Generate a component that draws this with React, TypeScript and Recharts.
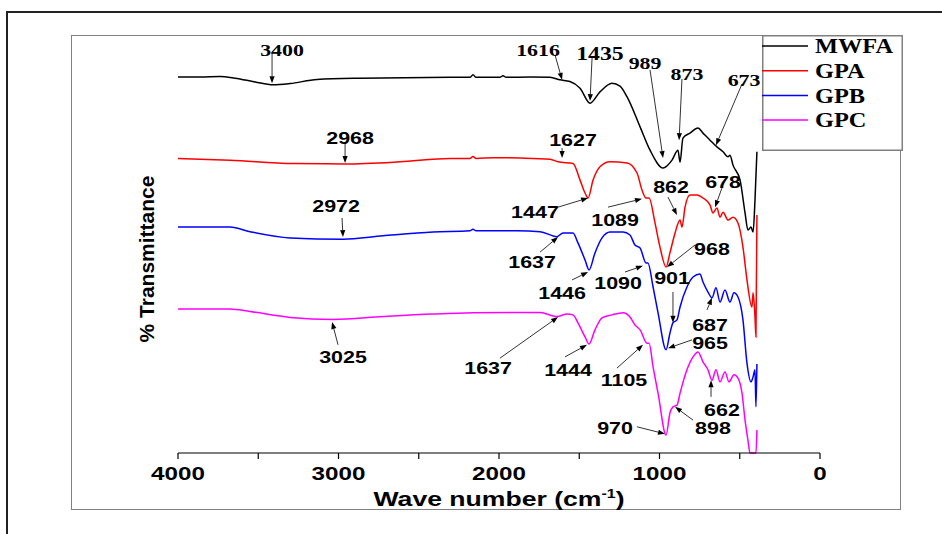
import React from 'react';
import { LineChart, Line, XAxis, YAxis, ReferenceLine, ReferenceDot, Legend } from 'recharts';

// FTIR spectra, wave number (cm-1) vs % transmittance (curves offset)
const MWFA: [number, number][] = [
  [4000, 90.4], [3863, 90.4], [3738, 90.5], [3645, 90.1], [3520, 89.2], [3408, 88.5], [3302, 88.8],
  [3134, 89.8], [2866, 90.1], [2305, 90.3], [2181, 90.3], [2162, 90.9], [2143, 90.3], [1994, 90.3],
  [1975, 90.7], [1956, 90.3], [1807, 90.4], [1682, 90.3], [1620, 89.7], [1558, 89.3], [1495, 87.7],
  [1433, 84.1], [1371, 86.8], [1296, 88.9], [1246, 88.2], [1202, 85.6], [1121, 78.4], [1059, 72.8],
  [978, 68.5], [922, 70.4], [885, 72.8], [872, 69.9], [854, 75.7], [810, 76.9], [760, 78.1],
  [729, 76.9], [685, 75.2], [642, 73.6], [604, 72.4], [573, 71.2], [561, 71.6], [542, 69.2],
  [498, 65.6], [467, 57.7], [449, 53.6], [430, 54.3], [417, 53.1], [405, 60.8], [393, 72.4],
];

const GPA: [number, number][] = [
  [4000, 70.8], [3676, 70.4], [3283, 69.6], [2959, 69.5], [2617, 70.0], [2305, 70.8], [2181, 70.8],
  [2162, 71.3], [2143, 70.8], [2037, 71.0], [1869, 70.9], [1682, 70.6], [1632, 70.0], [1539, 69.6],
  [1495, 65.6], [1464, 62.5], [1445, 61.3], [1414, 65.6], [1371, 68.8], [1308, 70.0], [1202, 69.7],
  [1140, 67.3], [1109, 63.2], [1084, 61.3], [1065, 61.3], [1028, 55.3], [997, 49.5], [959, 44.7],
  [935, 48.1], [903, 52.9], [872, 56.0], [860, 54.3], [841, 59.1], [810, 62.0], [766, 62.0],
  [729, 61.3], [685, 59.6], [667, 57.7], [642, 58.9], [623, 56.7], [604, 57.9], [573, 56.0],
  [542, 56.7], [511, 55.3], [480, 49.5], [455, 41.6], [424, 35.1], [417, 38.5], [405, 32.7],
  [399, 27.9], [393, 57.2],
];

const GPB: [number, number][] = [
  [4000, 54.3], [3676, 54.3], [3551, 53.2], [3302, 51.7], [2972, 51.4], [2723, 52.2], [2411, 53.1],
  [2181, 53.4], [2162, 53.8], [2143, 53.4], [1888, 53.4], [1744, 53.2], [1639, 52.0], [1601, 52.9],
  [1539, 52.9], [1508, 50.5], [1464, 46.4], [1439, 44.0], [1402, 48.1], [1358, 51.7], [1308, 53.1],
  [1227, 53.1], [1184, 52.4], [1153, 50.0], [1121, 49.3], [1084, 45.7], [1072, 45.7], [1040, 39.9],
  [1009, 33.7], [959, 24.8], [935, 28.8], [916, 31.3], [891, 32.0], [872, 35.1], [829, 39.9],
  [791, 42.3], [748, 43.0], [729, 41.1], [698, 38.7], [673, 37.3], [648, 39.7], [623, 36.3],
  [592, 39.2], [561, 36.3], [536, 38.5], [511, 37.5], [480, 32.0], [455, 21.6], [430, 17.1],
  [417, 18.3], [405, 20.0], [399, 11.1], [393, 21.4],
];

const GPC: [number, number][] = [
  [4000, 34.6], [3676, 34.6], [3551, 34.0], [3302, 32.6], [3034, 32.1], [2723, 32.8], [2411, 33.4],
  [2162, 33.7], [1744, 33.8], [1639, 32.8], [1576, 33.4], [1539, 33.2], [1508, 31.3], [1464, 27.9],
  [1439, 26.2], [1402, 29.6], [1358, 32.5], [1296, 33.2], [1227, 33.7], [1184, 32.7], [1153, 30.8],
  [1121, 29.6], [1078, 26.4], [1065, 26.4], [1040, 20.7], [1009, 14.4], [959, 4.3], [935, 9.6],
  [916, 11.1], [891, 11.5], [872, 14.4], [829, 20.0], [791, 23.1], [760, 24.3], [729, 21.9],
  [698, 20.0], [673, 17.5], [648, 20.0], [623, 17.1], [592, 19.5], [567, 17.1], [536, 18.8],
  [511, 18.0], [486, 14.4], [467, 7.9], [449, 3.1], [436, 0], [405, 0], [399, 0], [393, 5.5],
];

const seriesNames = ['MWFA', 'GPA', 'GPB', 'GPC'];
const seriesColors = ['#000000', '#ff0000', '#0000ff', '#ff00ff'];
const xTicks = [0, 500, 1000, 1500, 2000, 2500, 3000, 3500, 4000];

// peak labels: text position, arrow start, arrow tip (wave number, transmittance)
type Peak = { text: string; serif?: boolean; big?: boolean; at: number[]; from: number[]; to: number[] };
const peaks: Peak[] = [
  { text: '3400', serif: true, at: [3352, 96.9], from: [3414, 96.2], to: [3414, 88.9] },
  { text: '1616', serif: true, at: [1757, 96.9], from: [1651, 95.7], to: [1607, 89.7] },
  { text: '1435', serif: true, big: true, at: [1371, 96.2], from: [1420, 95.0], to: [1433, 84.6] },
  { text: '989', serif: true, at: [1090, 93.8], from: [1059, 92.1], to: [978, 70.9] },
  { text: '873', serif: true, at: [829, 91.3], from: [860, 89.9], to: [878, 75.2] },
  { text: '673', serif: true, at: [473, 89.7], from: [486, 88.7], to: [648, 74.0] },
  { text: '2968', at: [2928, 75.7], from: [2959, 74.5], to: [2959, 69.7] },
  { text: '1627', at: [1539, 75.2], from: [1607, 73.3], to: [1607, 70.9] },
  { text: '1447', at: [1776, 57.9], from: [1632, 59.1], to: [1445, 61.3] },
  { text: '1089', at: [1277, 56.0], from: [1321, 59.1], to: [1109, 61.1] },
  { text: '862', at: [928, 63.9], from: [947, 61.5], to: [891, 57.2] },
  { text: '678', at: [604, 65.1], from: [611, 63.7], to: [654, 59.1] },
  { text: '968', at: [673, 49.0], from: [779, 50.0], to: [953, 44.7] },
  { text: '2972', at: [3015, 59.4], from: [2978, 56.5], to: [2972, 51.9] },
  { text: '1637', at: [1794, 45.9], from: [1744, 48.3], to: [1632, 51.9] },
  { text: '1446', at: [1607, 38.5], from: [1545, 41.6], to: [1445, 43.5] },
  { text: '1090', at: [1258, 40.9], from: [1215, 43.5], to: [1103, 45.0] },
  { text: '901', at: [922, 42.1], from: [916, 38.7], to: [916, 31.3] },
  { text: '687', at: [685, 30.8], from: [704, 34.4], to: [673, 37.3] },
  { text: '965', at: [685, 26.4], from: [797, 27.2], to: [947, 25.2] },
  { text: '3025', at: [2972, 23.1], from: [3003, 26.0], to: [3040, 31.5] },
  { text: '1637', at: [2068, 20.4], from: [1994, 22.8], to: [1632, 32.7] },
  { text: '1444', at: [1570, 20.0], from: [1589, 23.1], to: [1452, 26.0] },
  { text: '1105', at: [1221, 17.5], from: [1265, 20.4], to: [1103, 26.0] },
  { text: '970', at: [1277, 6.0], from: [1140, 6.3], to: [966, 4.6] },
  { text: '898', at: [667, 6.0], from: [791, 7.9], to: [903, 11.1] },
  { text: '662', at: [611, 10.3], from: [679, 13.5], to: [679, 17.5] },
];

const SANS = '"Liberation Sans", Arial, sans-serif';
const SERIF = '"Liberation Serif", "Times New Roman", serif';

const toRows = (pts: [number, number][]) => pts.map(([w, t]) => ({ w, t }));
const allSeries = [MWFA, GPA, GPB, GPC].map(toRows);

const Arrow = (p: any) => {
  const { x1, y1, x2, y2 } = p;
  const dx = x2 - x1;
  const dy = y2 - y1;
  const len = Math.hypot(dx, dy) || 1;
  const ux = dx / len;
  const uy = dy / len;
  const head = 7;
  const hw = 2.6;
  const bx = x2 - ux * head;
  const by = y2 - uy * head;
  return (
    <g>
      <line x1={x1} y1={y1} x2={bx} y2={by} stroke="#333" strokeWidth={1} />
      <polygon
        points={`${x2},${y2} ${bx - uy * hw},${by + ux * hw} ${bx + uy * hw},${by - ux * hw}`}
        fill="#000"
      />
    </g>
  );
};

const peakText = (pk: Peak) => (p: any) => {
  const size = pk.serif ? (pk.big ? 19 : 17.5) : 16.5;
  return (
    <text
      transform={`translate(${p.cx} ${p.cy}) scale(${pk.serif ? 1.25 : 1.3} 1)`}
      textAnchor="middle"
      dy="0.36em"
      fontFamily={pk.serif ? SERIF : SANS}
      fontWeight="bold"
      fontSize={size}
      fill="#000"
    >
      {pk.text}
    </text>
  );
};

const TickLabel = (props: any) => {
  const { x, y, payload } = props;
  if (payload.value % 1000 !== 0) return <g />;
  return (
    <text
      transform={`translate(${x} ${y}) scale(1.31 1)`}
      textAnchor="middle"
      dy={21}
      fontFamily={SANS}
      fontWeight="bold"
      fontSize={18.5}
      fill="#000"
    >
      {payload.value}
    </text>
  );
};

const AxisTitle = (props: any) => {
  const vb = props.viewBox;
  const cx = vb.x + vb.width / 2;
  return (
    <text
      transform={`translate(${cx} ${vb.y + 53}) scale(1.33 1)`}
      textAnchor="middle"
      fontFamily={SANS}
      fontWeight="bold"
      fontSize={20}
      fill="#000"
    >
      Wave number (cm
      <tspan fontSize={12} dy={-8}>-1</tspan>
      <tspan dy={8}>)</tspan>
    </text>
  );
};

const LegendBox = (props: any) => {
  const items = [...(props.payload || [])].sort(
    (a: any, b: any) => seriesNames.indexOf(a.value) - seriesNames.indexOf(b.value)
  );
  return (
    <svg width={141} height={116} style={{ display: 'block' }}>
      <rect x={0.75} y={0.75} width={139.5} height={114.5} fill="#fff" stroke="#7f7f7f" strokeWidth={1.5} />
      {items.map((it: any, i: number) => (
        <g key={it.value}>
          <line x1={0} x2={46} y1={11 + i * 24.7} y2={11 + i * 24.7} stroke={it.color} strokeWidth={1.5} />
          <text
            transform={`translate(53 ${11 + i * 24.7}) scale(1.16 1)`}
            dy="0.34em"
            fontFamily={SERIF}
            fontWeight="bold"
            fontSize={21}
            fill="#000"
          >
            {it.value}
          </text>
        </g>
      ))}
    </svg>
  );
};

export default function App() {
  return (
    <div style={{ position: 'absolute', left: 0, top: 0, width: 942, height: 534, background: '#fff', overflow: 'hidden' }}>
      {/* outer frame */}
      <div style={{ position: 'absolute', left: 6, top: 11, width: 960, height: 600, borderTop: '2px solid #222', borderLeft: '2px solid #222' }} />
      {/* inner frame */}
      <div style={{ position: 'absolute', left: 71, top: 35, width: 828, height: 473, border: '1.5px solid #808080' }} />
      <svg width={942} height={534} style={{ position: 'absolute', left: 0, top: 0 }}>
        <text
          transform="translate(154 259) rotate(-90)"
          textAnchor="middle"
          fontFamily={SANS}
          fontWeight="bold"
          fontSize={21}
          fill="#000"
        >
          % Transmittance
        </text>
      </svg>
      <div style={{ position: 'absolute', left: 0, top: 0 }}>
        <LineChart width={942} height={534} margin={{ top: 37, right: 122, bottom: 31, left: 178 }}>
          <XAxis
            dataKey="w"
            type="number"
            domain={[0, 4000]}
            reversed
            ticks={xTicks}
            tick={TickLabel}
            tickSize={6}
            tickMargin={0}
            height={50}
            interval={0}
            stroke="#000"
            axisLine={{ stroke: '#000', strokeWidth: 1.2 }}
            tickLine={{ stroke: '#000', strokeWidth: 1.2 }}
            label={{ content: AxisTitle }}
          />
          <YAxis type="number" domain={[0, 100]} hide />
          {allSeries.map((rows, i) => (
            <Line
              key={seriesNames[i]}
              data={rows}
              dataKey="t"
              name={seriesNames[i]}
              type="monotone"
              stroke={seriesColors[i]}
              strokeWidth={1.5}
              dot={false}
              isAnimationActive={false}
            />
          ))}
          {peaks.map((pk, i) => (
            <ReferenceLine
              key={'a' + i}
              segment={[{ x: pk.from[0], y: pk.from[1] }, { x: pk.to[0], y: pk.to[1] }]}
              ifOverflow="visible"
              shape={Arrow}
            />
          ))}
          {peaks.map((pk, i) => (
            <ReferenceDot key={'t' + i} x={pk.at[0]} y={pk.at[1]} r={0} ifOverflow="visible" shape={peakText(pk)} />
          ))}
          <Legend
            layout="vertical"
            align="center"
            verticalAlign="middle"
            wrapperStyle={{ left: 762, top: 35, width: 141, height: 116 }}
            content={LegendBox}
          />
        </LineChart>
      </div>
    </div>
  );
}
